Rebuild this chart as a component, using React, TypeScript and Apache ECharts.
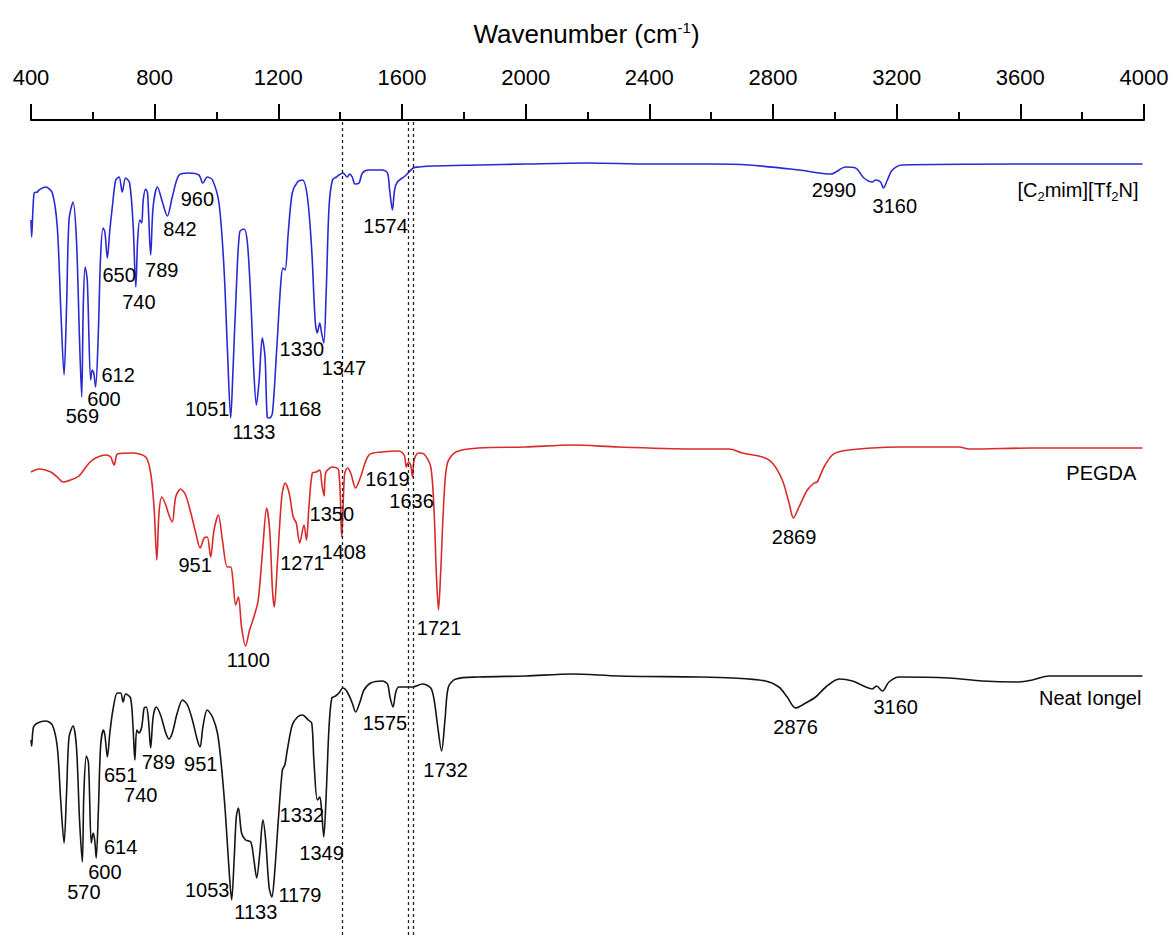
import React, { useEffect, useRef } from "react";
import * as echarts from "echarts";

// Wavenumber axis (cm^-1)
const axisMin = 400;
const axisMax = 4000;
const axisInterval = 400;

// Vertical reference lines (cm^-1)
const referenceLines = [1408, 1619, 1636];

// Offset transmittance (a.u.) for [C2mim][Tf2N]
const ilSpectrum: [number, number][] = [
  [400, 71.5], [402, 69.8], [410, 74.2], [421, 74.3], [426, 74.5], [447, 74.8], [469, 74.2], [485, 70.8],
  [496, 62.8], [507, 56.0], [515, 62.8], [523, 71.5], [536, 73.3], [547, 69.5], [557, 59.5], [564, 53.8],
  [569, 62.8], [575, 66.8], [582, 65.5], [593, 55.5], [598, 56.5], [603, 56.2], [609, 54.8], [617, 59.5],
  [625, 67.8], [633, 70.7], [639, 70.3], [647, 67.7], [655, 70.5], [663, 72.8], [674, 75.5], [685, 75.8],
  [695, 74.3], [706, 75.7], [719, 75.2], [730, 71.2], [739, 64.8], [745, 69.5], [752, 71.5], [758, 71.2],
  [763, 73.5], [771, 74.6], [777, 74.2], [787, 68.0], [795, 72.8], [809, 74.8], [825, 73.3], [841, 71.9],
  [857, 73.8], [879, 76.0], [911, 76.2], [943, 76.0], [956, 75.2], [970, 75.8], [987, 75.5], [1008, 73.2],
  [1024, 66.8], [1035, 58.8], [1046, 51.7], [1053, 56.2], [1064, 64.5], [1075, 70.3], [1089, 70.6], [1100, 69.2],
  [1111, 63.5], [1121, 56.2], [1129, 53.0], [1138, 55.5], [1148, 59.7], [1157, 57.8], [1164, 51.8], [1172, 51.7],
  [1181, 52.2], [1194, 58.2], [1208, 65.2], [1215, 66.7], [1222, 66.5], [1232, 70.2], [1245, 74.2], [1262, 75.3],
  [1278, 75.5], [1294, 73.8], [1308, 68.5], [1319, 61.5], [1326, 60.2], [1334, 61.2], [1340, 60.2], [1347, 59.2],
  [1355, 64.5], [1364, 72.8], [1375, 75.5], [1388, 75.8], [1396, 76.0], [1409, 76.2], [1423, 75.8], [1431, 76.1],
  [1439, 75.8], [1448, 75.1], [1461, 75.2], [1472, 76.2], [1493, 76.5], [1536, 76.5], [1553, 76.2], [1560, 74.5],
  [1569, 72.5], [1576, 74.5], [1585, 75.3], [1610, 75.9], [1636, 76.7], [1655, 76.8], [1700, 76.9], [1850, 77.0],
  [2000, 77.1], [2200, 77.2], [2400, 77.1], [2600, 77.1], [2722, 77.0], [2884, 76.5], [2987, 76.1], [3035, 76.8],
  [3067, 76.7], [3094, 75.7], [3121, 75.3], [3132, 75.5], [3148, 75.3], [3157, 74.7], [3170, 75.5], [3186, 76.5],
  [3218, 77.0], [3600, 77.1], [3995, 77.1],
];

// Offset transmittance (a.u.) for PEGDA
const pegdaSpectrum: [number, number][] = [
  [400, 46.3], [426, 46.6], [464, 46.3], [485, 45.8], [504, 45.3], [528, 45.5], [555, 45.9], [588, 47.2],
  [609, 47.7], [642, 48.0], [658, 47.8], [664, 47.3], [669, 47.0], [674, 47.6], [679, 48.1], [728, 48.2],
  [771, 47.8], [787, 46.2], [798, 42.8], [807, 37.5], [814, 42.2], [823, 43.8], [836, 43.0], [846, 42.0],
  [857, 41.3], [868, 43.8], [884, 44.6], [900, 44.0], [917, 42.2], [933, 40.2], [947, 38.7], [960, 39.7],
  [970, 39.8], [981, 37.8], [992, 40.5], [1006, 42.0], [1019, 39.5], [1035, 36.8], [1046, 36.8], [1053, 35.5],
  [1062, 33.0], [1071, 33.8], [1081, 30.8], [1094, 28.9], [1107, 30.5], [1121, 31.8], [1135, 33.5], [1150, 38.8],
  [1162, 42.7], [1172, 40.5], [1181, 34.5], [1187, 32.8], [1197, 37.2], [1211, 43.8], [1222, 45.2], [1235, 44.2],
  [1248, 41.8], [1258, 41.2], [1269, 39.2], [1283, 41.0], [1291, 39.5], [1299, 42.8], [1310, 46.2], [1323, 46.3],
  [1334, 46.5], [1341, 45.0], [1348, 43.9], [1353, 46.2], [1375, 46.8], [1395, 46.5], [1405, 39.8], [1414, 46.0],
  [1423, 46.7], [1434, 46.2], [1450, 44.7], [1466, 45.8], [1493, 48.0], [1536, 48.3], [1590, 48.4], [1607, 48.0],
  [1614, 46.8], [1621, 47.3], [1628, 47.0], [1634, 45.8], [1639, 47.5], [1653, 48.2], [1671, 48.1], [1693, 46.8],
  [1704, 42.2], [1711, 36.2], [1718, 32.5], [1725, 36.2], [1736, 43.8], [1747, 47.2], [1774, 48.3], [1849, 48.7],
  [2000, 48.8], [2150, 49.0], [2300, 48.8], [2561, 48.6], [2658, 48.6], [2701, 48.2], [2766, 47.8], [2798, 47.2],
  [2830, 45.5], [2852, 43.2], [2866, 41.7], [2884, 42.8], [2911, 44.5], [2933, 45.2], [2943, 45.3], [2965, 46.8],
  [2992, 48.0], [3024, 48.4], [3121, 48.7], [3208, 48.8], [3402, 48.8], [3434, 48.6], [3639, 48.7], [3995, 48.7],
];

// Offset transmittance (a.u.) for Neat Iongel
const iongelSpectrum: [number, number][] = [
  [400, 19.5], [402, 18.9], [408, 20.8], [421, 21.2], [447, 21.4], [469, 21.0], [485, 18.8], [496, 13.5],
  [507, 9.2], [515, 14.2], [523, 19.8], [536, 20.9], [547, 18.8], [557, 11.5], [566, 7.3], [571, 14.2],
  [579, 17.9], [586, 17.2], [595, 9.2], [601, 10.2], [606, 9.5], [611, 7.7], [618, 12.5], [625, 18.8],
  [634, 20.5], [639, 20.0], [647, 17.8], [655, 20.2], [665, 22.5], [679, 24.2], [690, 24.2], [698, 23.3],
  [706, 24.1], [722, 23.7], [730, 20.8], [736, 17.5], [742, 20.5], [749, 20.2], [758, 20.8], [766, 22.7],
  [773, 22.8], [780, 21.5], [787, 18.7], [795, 21.8], [805, 22.8], [819, 22.0], [836, 20.2], [846, 19.6],
  [857, 20.2], [873, 22.2], [890, 23.5], [906, 23.0], [922, 21.5], [938, 19.5], [947, 18.8], [956, 20.8],
  [970, 22.5], [987, 21.8], [1003, 20.2], [1014, 17.5], [1028, 12.5], [1040, 6.8], [1049, 3.5], [1057, 7.5],
  [1064, 11.8], [1071, 12.7], [1081, 10.2], [1094, 9.5], [1111, 9.3], [1121, 7.5], [1130, 5.7], [1140, 8.2],
  [1150, 11.5], [1159, 9.5], [1170, 4.8], [1179, 3.8], [1187, 5.8], [1200, 11.5], [1213, 16.5], [1221, 17.0],
  [1229, 18.5], [1245, 21.0], [1262, 21.8], [1278, 22.0], [1297, 21.5], [1308, 21.2], [1315, 17.5], [1326, 13.5],
  [1334, 13.8], [1339, 12.8], [1347, 9.8], [1355, 14.2], [1364, 20.8], [1373, 23.7], [1385, 23.9], [1396, 24.2],
  [1409, 24.7], [1423, 24.3], [1439, 23.2], [1450, 22.3], [1463, 23.2], [1477, 24.5], [1499, 25.2], [1536, 25.4],
  [1553, 25.1], [1561, 23.8], [1571, 22.8], [1580, 24.3], [1590, 24.8], [1634, 24.8], [1666, 25.1], [1693, 24.7],
  [1704, 23.5], [1714, 21.2], [1728, 18.4], [1739, 21.5], [1750, 24.8], [1774, 25.6], [1849, 25.8], [2000, 25.9],
  [2150, 26.1], [2300, 25.9], [2561, 25.8], [2669, 25.7], [2776, 25.4], [2819, 24.8], [2846, 23.8], [2873, 22.7],
  [2906, 23.2], [2938, 23.8], [2971, 24.8], [3014, 25.6], [3057, 25.4], [3100, 24.8], [3121, 24.6], [3135, 24.9],
  [3154, 24.4], [3175, 25.3], [3208, 25.8], [3369, 25.7], [3477, 25.4], [3596, 25.3], [3639, 25.5], [3693, 25.9],
  [3995, 25.9],
];

// Peak annotations: [wavenumber anchor, value anchor, text]
const ilPeakLabels: [number, number, string][] = [
  [938, 73.6, "960"], [882, 70.6, "842"], [685, 66.0, "650"], [823, 66.5, "789"], [749, 63.3, "740"],
  [682, 56.0, "612"], [636, 53.6, "600"], [566, 51.9, "569"], [970, 52.6, "1051"], [1121, 50.3, "1133"],
  [1270, 52.6, "1168"], [1276, 58.6, "1330"], [1412, 56.7, "1347"], [1547, 70.9, "1574"],
  [2997, 74.5, "2990"], [3194, 72.9, "3160"],
];
const pegdaPeakLabels: [number, number, string][] = [
  [931, 37.0, "951"], [1103, 27.5, "1100"], [1278, 37.2, "1271"], [1373, 42.1, "1350"], [1412, 38.3, "1408"],
  [1553, 45.6, "1619"], [1631, 43.4, "1636"], [1720, 30.7, "1721"], [2868, 39.8, "2869"],
];
const iongelPeakLabels: [number, number, string][] = [
  [690, 16.0, "651"], [812, 17.3, "789"], [949, 17.1, "951"], [755, 14.0, "740"], [690, 8.8, "614"],
  [639, 6.3, "600"], [571, 4.3, "570"], [970, 4.5, "1053"], [1127, 2.3, "1133"], [1270, 4.0, "1179"],
  [1276, 12.0, "1332"], [1340, 8.2, "1349"], [1545, 21.2, "1575"], [1741, 16.5, "1732"],
  [2873, 20.8, "2876"], [3197, 22.8, "3160"],
];

// Sample names (rich text) and their right-aligned anchors
const sampleNames = ["{n|[C}{s|2}{n|mim][Tf}{s|2}{n|N]}", "{n|PEGDA}", "{n|Neat Iongel}"];
const sampleNameAnchors: [number, number][] = [[3984, 74.5], [3977, 46.2], [3993, 23.7]];

const FONT = "'Liberation Sans', Arial, Helvetica, sans-serif";
const INK = "#000000";

function peakLabelSeries(labels: [number, number, string][]) {
  return {
    type: "scatter",
    silent: true,
    symbolSize: 1,
    itemStyle: { color: "rgba(0,0,0,0)", opacity: 1 },
    data: labels.map(([x, y, t]) => ({ value: [x, y], name: t })),
    label: {
      show: true,
      position: "inside",
      formatter: "{b}",
      fontSize: 20,
      fontFamily: FONT,
      color: INK,
      opacity: 1,
      textBorderWidth: 0,
    },
    z: 5,
  };
}

export default function App() {
  const ref = useRef<HTMLDivElement>(null);

  useEffect(() => {
    document.body.style.margin = "0";
    if (!ref.current) return;
    const chart = echarts.init(ref.current, undefined, { renderer: "svg" });

    const nameSeries = {
      type: "scatter",
      silent: true,
      symbolSize: 1,
      itemStyle: { color: "rgba(0,0,0,0)", opacity: 1 },
      data: sampleNameAnchors.map((a, i) => ({ value: a, name: sampleNames[i] })),
      label: {
        show: true,
        position: "left",
        distance: 0,
        formatter: "{b}",
        opacity: 1,
        textBorderWidth: 0,
        rich: {
          n: { fontSize: 20, fontFamily: FONT, color: INK, lineHeight: 26 },
          s: { fontSize: 13, fontFamily: FONT, color: INK, lineHeight: 14, verticalAlign: "bottom" },
        },
      },
      z: 5,
    };

    chart.setOption({
      animation: false,
      title: {
        text: "{a|Wavenumber (cm}{sup|-1}{a|)}",
        left: "center",
        top: 18,
        padding: 0,
        textStyle: {
          fontWeight: "normal",
          rich: {
            a: { fontSize: 26, fontWeight: "normal", fontFamily: FONT, color: INK, lineHeight: 32 },
            sup: { fontSize: 15, fontWeight: "normal", fontFamily: FONT, color: INK, lineHeight: 15, verticalAlign: "top", padding: [2, 0, 0, 0] },
          },
        },
      },
      grid: { left: 31, right: 29, top: 120, bottom: 0, containLabel: false },
      xAxis: {
        type: "value",
        position: "top",
        min: axisMin,
        max: axisMax,
        interval: axisInterval,
        splitLine: { show: false },
        axisLine: { onZero: false, lineStyle: { color: "#000", width: 2 } },
        axisTick: { show: true, length: 16, lineStyle: { color: "#000", width: 2 } },
        minorTick: { show: true, splitNumber: 2, length: 8, lineStyle: { color: "#000", width: 2 } },
        minorSplitLine: { show: false },
        axisLabel: {
          fontSize: 22,
          fontFamily: FONT,
          color: INK,
          margin: 32,
          formatter: (v: number) => String(v),
        },
      },
      yAxis: { type: "value", min: 0, max: 81.5, show: false },
      series: [
        {
          name: "[C2mim][Tf2N]",
          type: "line",
          data: ilSpectrum,
          showSymbol: false,
          smooth: 0.3,
          lineStyle: { color: "#2a2ad2", width: 1.6 },
          silent: true,
        },
        {
          name: "PEGDA",
          type: "line",
          data: pegdaSpectrum,
          showSymbol: false,
          smooth: 0.3,
          lineStyle: { color: "#d92b2b", width: 1.6 },
          silent: true,
        },
        {
          name: "Neat Iongel",
          type: "line",
          data: iongelSpectrum,
          showSymbol: false,
          smooth: 0.3,
          lineStyle: { color: "#151515", width: 1.6 },
          silent: true,
          markLine: {
            silent: true,
            symbol: ["none", "none"],
            label: { show: false },
            lineStyle: { type: [3, 3], color: "#222", width: 1.3 },
            data: referenceLines.map((v) => ({ xAxis: v })),
          },
        },
        peakLabelSeries(ilPeakLabels),
        peakLabelSeries(pegdaPeakLabels),
        peakLabelSeries(iongelPeakLabels),
        nameSeries,
      ],
    });

    return () => chart.dispose();
  }, []);

  return <div ref={ref} style={{ width: 1173, height: 935 }} />;
}
